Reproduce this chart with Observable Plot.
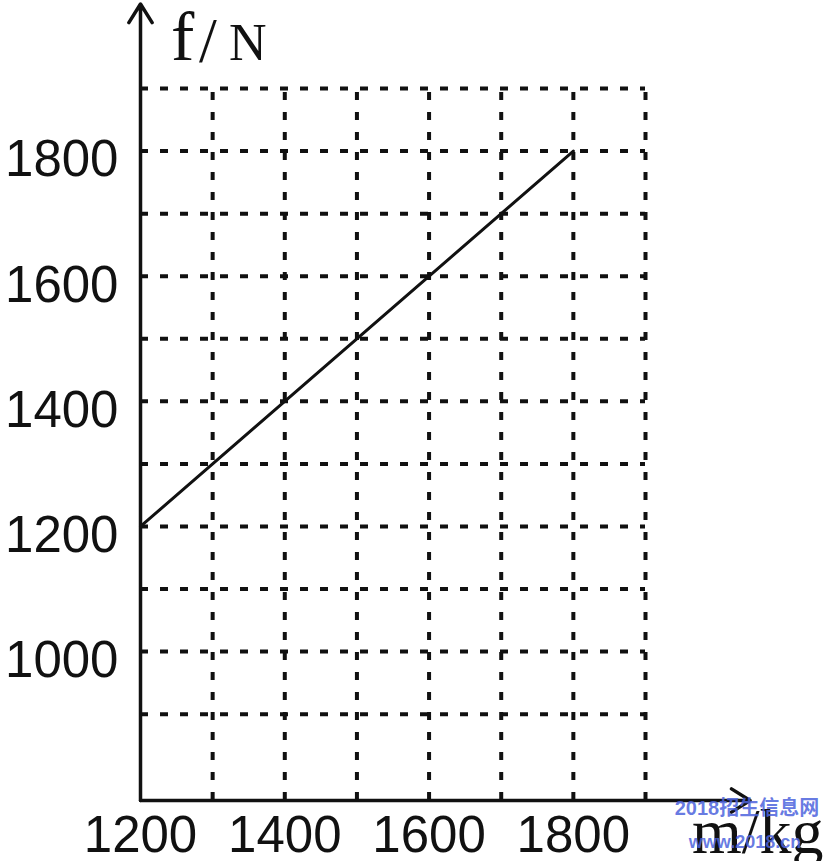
<!DOCTYPE html>
<html>
<head>
<meta charset="utf-8">
<script src="https://cdn.jsdelivr.net/npm/d3@7"></script>
<script src="https://cdn.jsdelivr.net/npm/@observablehq/plot@0.6"></script>
<style>
  html, body { margin: 0; padding: 0; background: #fff; }
  #chart svg { display: block; overflow: visible; }
</style>
</head>
<body>
<div id="chart"></div>
<script>
// ---- data ----
const massKg = [1200, 1800];           // m / kg
const forceN = [1200, 1800];           // f / N
const xTickLabels = [1200, 1400, 1600, 1800];
const yTickLabels = [1000, 1200, 1400, 1600, 1800];
const xGridLines = [1300, 1400, 1500, 1600, 1700, 1800, 1900];
const yGridLines = [900, 1000, 1100, 1200, 1300, 1400, 1500, 1600, 1700, 1800, 1900];
const xDomain = [1200, 1900];
const yDomain = [762, 1900];
const xAxisEnd = 2045;   // arrow tip of m axis
const yAxisEnd = 2035;   // arrow tip of f axis

const line = massKg.map((m, i) => ({m, f: forceN[i]}));

const dash = "8,12";
const plot = Plot.plot({
  width: 832,
  height: 861,
  marginLeft: 140,
  marginRight: 187,
  marginTop: 88,
  marginBottom: 61,
  style: {background: "#fff", color: "#111"},
  x: {domain: xDomain},
  y: {domain: yDomain},
  marks: [
    Plot.ruleY(yGridLines, {y: d => d, x1: xDomain[0], x2: xDomain[1], stroke: "#111", strokeWidth: 4, strokeDasharray: dash}),
    Plot.ruleX(xGridLines, {x: d => d, y1: yDomain[0], y2: yDomain[1], stroke: "#111", strokeWidth: 4, strokeDasharray: dash}),
    Plot.line(line, {x: "m", y: "f", stroke: "#111", strokeWidth: 3}),
    Plot.arrow([0], {x1: xDomain[0], y1: yDomain[0], x2: xAxisEnd, y2: yDomain[0], stroke: "#111", strokeWidth: 3.5, headLength: 9.4, headAngle: 64}),
    Plot.arrow([0], {x1: xDomain[0], y1: yDomain[0], x2: xDomain[0], y2: yAxisEnd, stroke: "#111", strokeWidth: 3.5, headLength: 9.4, headAngle: 64}),
    Plot.axisX(xTickLabels, {tickSize: 0, tickPadding: 15, tickFormat: d => String(d), fontSize: 51, fontFamily: "Liberation Sans, Arial, sans-serif", fill: "#111", label: null}),
    Plot.axisY(yTickLabels, {tickSize: 0, tickPadding: 22, dy: 9, tickFormat: d => String(d), fontSize: 51, fontFamily: "Liberation Sans, Arial, sans-serif", fill: "#111", label: null})
  ]
});

const svg = d3.select(plot);
const serif = "Liberation Serif, Times New Roman, serif";
function label(x, y, size, str) {
  svg.append("text").attr("x", x).attr("y", y).attr("text-anchor", "start")
    .attr("font-family", serif).attr("font-size", size).attr("fill", "#111").text(str);
}
// y-axis label: f / N
label(171, 60, 70, "f");
label(199, 62, 64, "/");
label(229, 60, 52, "N");
// x-axis label: m/kg
label(692, 853, 64, "m/kg");
// watermark
const wm = "Liberation Sans, Arial, Noto Sans CJK SC, sans-serif";
svg.append("text").attr("x", 747).attr("y", 815).attr("text-anchor", "middle").attr("font-family", wm).attr("font-weight", "bold").attr("font-size", 20).attr("fill", "#4d63dd").attr("fill-opacity", 0.85).text("2018招生信息网");
svg.append("text").attr("x", 745).attr("y", 848).attr("text-anchor", "middle").attr("font-family", wm).attr("font-weight", "bold").attr("font-size", 18).attr("fill", "#4d63dd").attr("fill-opacity", 0.85).text("www.2018.cn");

document.getElementById("chart").appendChild(plot);
</script>
</body>
</html>
